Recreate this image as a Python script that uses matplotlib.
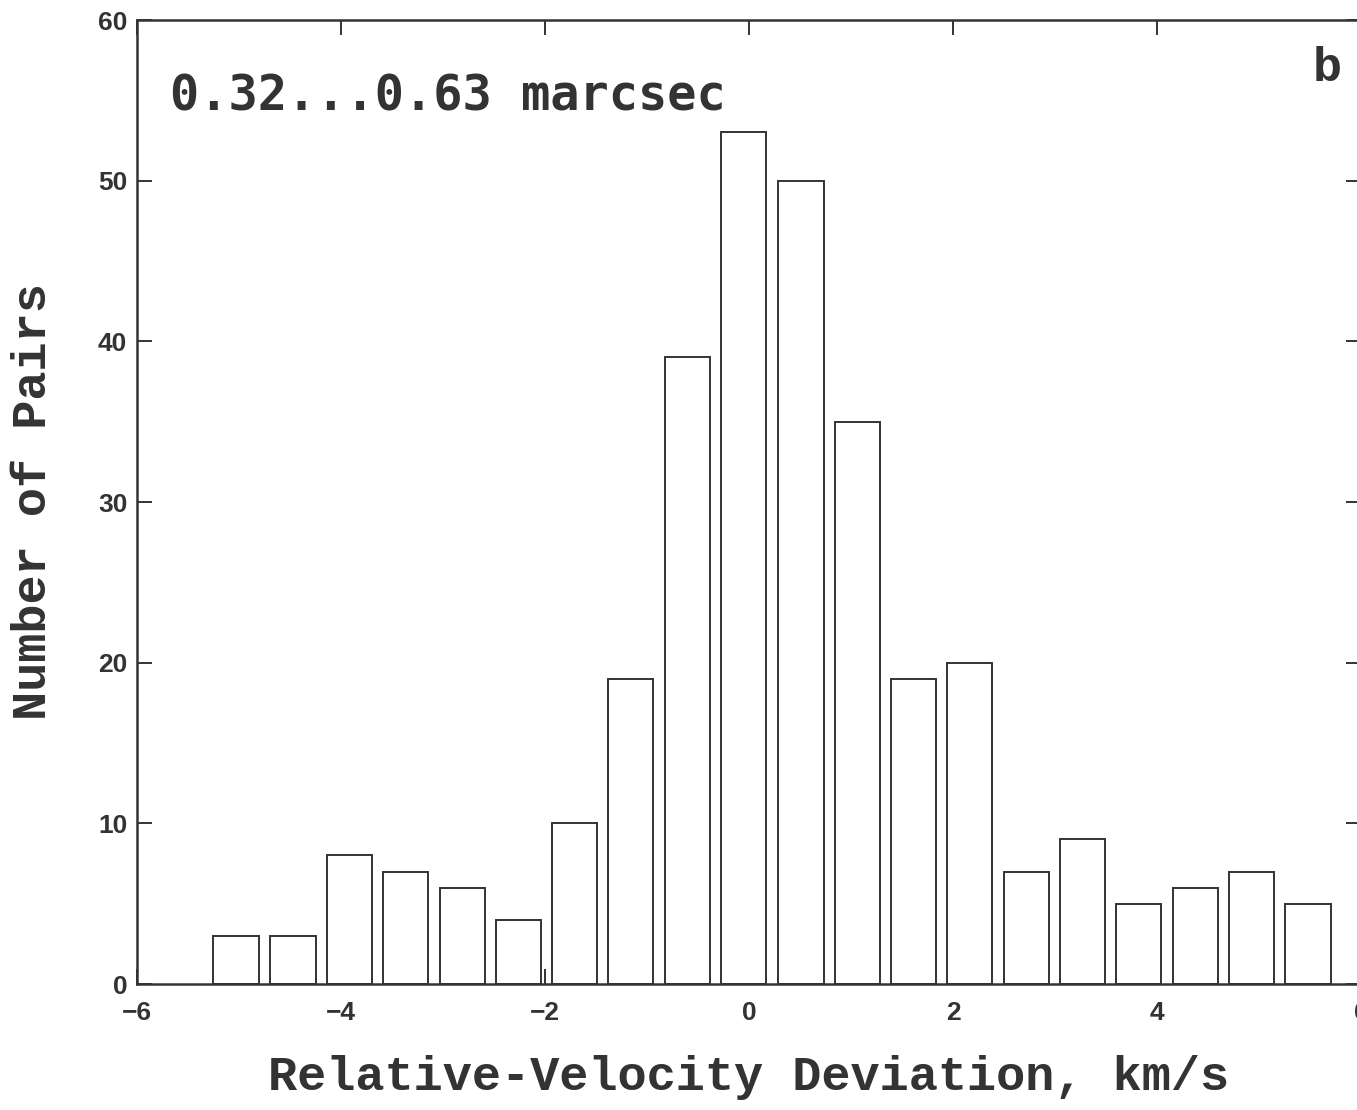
import numpy as np
import matplotlib
matplotlib.use("Agg")
import matplotlib.pyplot as plt

# histogram of relative-velocity deviations (bin centres, km/s) and counts
bin_centers = [-5.03, -4.47, -3.92, -3.37, -2.81, -2.26, -1.71, -1.16, -0.60, -0.05,
               0.51, 1.06, 1.61, 2.16, 2.72, 3.27, 3.82, 4.38, 4.93, 5.48]
counts = [3, 3, 8, 7, 6, 4, 10, 19, 39, 53,
          50, 35, 19, 20, 7, 9, 5, 6, 7, 5]
bin_width = 0.553

x_ticks = [-6, -4, -2, 0, 2, 4, 6]
y_ticks = [0, 10, 20, 30, 40, 50, 60]

ink = '#333333'

fig = plt.figure(figsize=(13.57, 11.10), dpi=100)
ax = fig.add_axes([137 / 1357, 1 - 984 / 1110, 1224 / 1357, 964 / 1110])

ax.bar(bin_centers, counts, width=bin_width * 0.8, facecolor='white',
       edgecolor=ink, linewidth=1.4, zorder=2)

ax.set_xlim(-6, 6)
ax.set_ylim(0, 60)
ax.set_xticks(x_ticks)
ax.set_yticks(y_ticks)

for s in ax.spines.values():
    s.set_color(ink)
    s.set_linewidth(1.8)
    s.set_zorder(3)

ax.tick_params(direction='in', length=11, width=1.4, color=ink,
               top=True, right=True, labelcolor=ink)
ax.tick_params(axis='y', pad=7)
ax.tick_params(axis='x', pad=12)
for lab in ax.get_xticklabels() + ax.get_yticklabels():
    lab.set_fontfamily('Liberation Sans')
    lab.set_fontweight('bold')
    lab.set_fontsize(19)

ax.set_xlabel('Relative-Velocity Deviation, km/s', family='Liberation Mono',
              fontweight='bold', fontsize=35, color=ink, labelpad=22)
ax.set_ylabel('Number of Pairs', family='Liberation Mono',
              fontweight='bold', fontsize=35, color=ink, labelpad=30)

ax.text(0.027, 0.921, '0.32...0.63 marcsec', transform=ax.transAxes,
        family='DejaVu Sans Mono', fontweight='bold', fontsize=35,
        color=ink, ha='left', va='center')
ax.text(0.972, 0.95, 'b', transform=ax.transAxes, family='Liberation Mono',
        fontweight='bold', fontsize=35, color=ink, ha='center', va='center')

fig.savefig('out.png', dpi=100)
